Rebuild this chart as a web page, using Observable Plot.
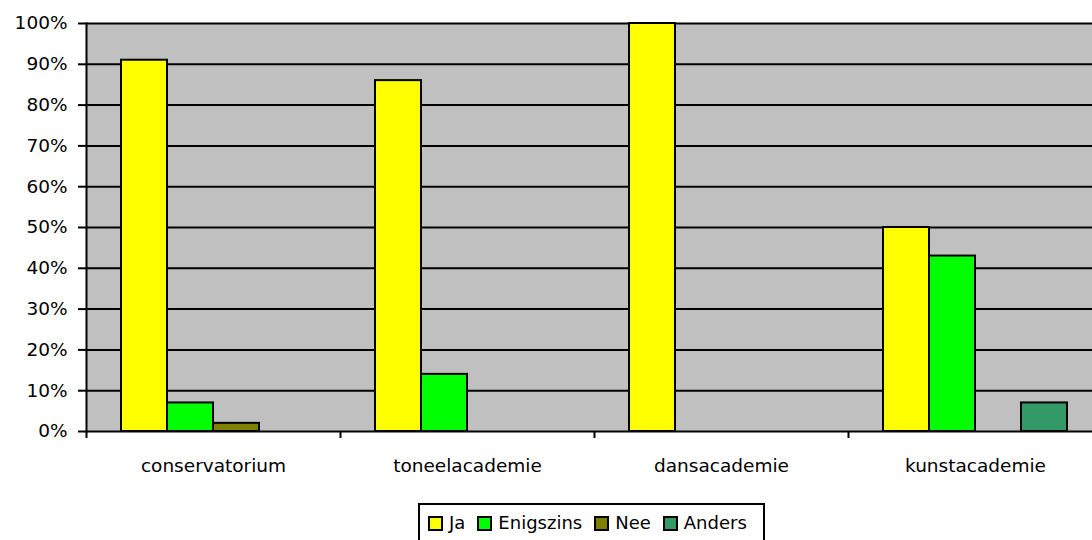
<!DOCTYPE html>
<html>
<head>
<meta charset="utf-8">
<script src="https://cdn.jsdelivr.net/npm/d3@7"></script>
<script src="https://cdn.jsdelivr.net/npm/@observablehq/plot@0.6"></script>
<style>
  html, body { margin: 0; padding: 0; background: white; overflow: hidden; }
  #wrap { position: relative; width: 1092px; height: 540px; overflow: hidden; }
  #wrap svg { max-width: none !important; }
  #legend { position: absolute; left: 418px; top: 503px; width: 347px; height: 50px;
    border: 2px solid black; box-sizing: border-box; font-family: "DejaVu Sans", sans-serif;
    font-size: 18px; display: flex; align-items: flex-start; padding: 7px 0 0 8px; gap: 0; }
  .item { display: flex; align-items: center; margin-right: 12px; line-height: 22px; }
  .sw { width: 11px; height: 11px; border: 2px solid black; margin-right: 6px; }
</style>
</head>
<body>
<div id="wrap"></div>
<script>
const categories = ["conservatorium", "toneelacademie", "dansacademie", "kunstacademie"];
const series = ["Ja", "Enigszins", "Nee", "Anders"];
const colors = ["#FFFF00", "#00FF00", "#808000", "#339966"];
const ja        = [91, 86, 100, 50];
const enigszins = [7, 14, 0, 43];
const nee       = [2, 0, 0, 0];
const anders    = [0, 0, 0, 7];
const yTicks = [0, 10, 20, 30, 40, 50, 60, 70, 80, 90, 100];

const valuesBySeries = [ja, enigszins, nee, anders];
const data = [];
categories.forEach((c, ci) => {
  series.forEach((s, si) => {
    const v = valuesBySeries[si][ci];
    if (v > 0) data.push({category: c, series: s, value: v});
  });
});

const W = 1102, ML = 86, MR = 0;
const halfBand = (W - ML - MR) / categories.length / 2;

const chart = Plot.plot({
  width: W,
  height: 540,
  marginLeft: ML,
  marginRight: MR,
  marginTop: 23,
  marginBottom: 109,
  style: {fontFamily: "DejaVu Sans, sans-serif", fontSize: "18px", color: "black", background: "white", overflow: "visible", maxWidth: "none"},
  fx: {domain: categories, padding: 0, label: null, round: false},
  x: {domain: series, paddingInner: 0, paddingOuter: 0.73, axis: null},
  y: {domain: [0, 100], label: null},
  color: {domain: series, range: colors},
  marks: [
    Plot.frame({fill: "#C0C0C0", stroke: "none", facet: "super"}),
    Plot.gridY(yTicks, {stroke: "black", strokeOpacity: 1, strokeWidth: 2}),
    Plot.barY(data, {fx: "category", x: "series", y: "value", fill: "series", stroke: "black", strokeWidth: 2}),
    Plot.frame({anchor: "left", stroke: "black", strokeWidth: 2, facet: "super"}),
    Plot.axisY(yTicks, {tickFormat: d => d + "%", tickSize: 8, tickPadding: 11, strokeWidth: 2, fontSize: 18.5, label: null}),
    Plot.axisFx({anchor: "bottom", tickSize: 0, tickPadding: 27, fontSize: 18.5, label: null}),
    Plot.axisFx({anchor: "bottom", tickSize: 7, tickFormat: () => "", dx: -halfBand, strokeWidth: 2, label: null})
  ]
});

const wrap = document.getElementById("wrap");
wrap.appendChild(chart);

const legend = document.createElement("div");
legend.id = "legend";
series.forEach((s, i) => {
  const item = document.createElement("div");
  item.className = "item";
  const sw = document.createElement("div");
  sw.className = "sw";
  sw.style.background = colors[i];
  const t = document.createElement("span");
  t.textContent = s;
  item.appendChild(sw);
  item.appendChild(t);
  legend.appendChild(item);
});
wrap.appendChild(legend);
</script>
</body>
</html>
